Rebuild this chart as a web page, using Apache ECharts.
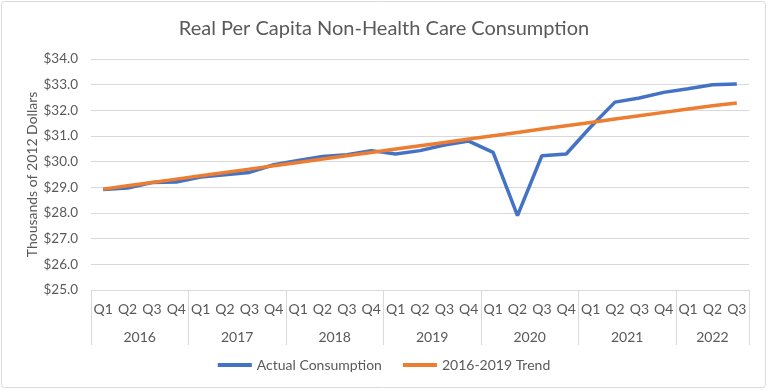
<!DOCTYPE html>
<html>
<head>
<meta charset="utf-8">
<script src="https://cdn.jsdelivr.net/npm/echarts@6/dist/echarts.min.js"></script>
<style>html,body{margin:0;padding:0;background:#fff;}#c{width:768px;height:391px;}</style>
</head>
<body>
<div id="c"></div>
<script>
var quarters = ['Q1','Q2','Q3','Q4','Q1','Q2','Q3','Q4','Q1','Q2','Q3','Q4','Q1','Q2','Q3','Q4','Q1','Q2','Q3','Q4','Q1','Q2','Q3','Q4','Q1','Q2','Q3'];
var years = ['2016','2017','2018','2019','2020','2021','2022'];
var yearCenters = [2, 6, 10, 14, 18, 22, 25.5];
var yearBounds = [0, 4, 8, 12, 16, 20, 24, 27];
var actual = [28.92,28.97,29.19,29.21,29.40,29.49,29.58,29.88,30.05,30.20,30.27,30.43,30.30,30.43,30.65,30.80,30.36,27.90,30.23,30.30,31.35,32.32,32.48,32.70,32.84,33.00,33.03];
var trend = [28.93,29.06,29.19,29.32,29.45,29.58,29.71,29.84,29.97,30.10,30.23,30.36,30.49,30.62,30.75,30.88,31.01,31.14,31.27,31.40,31.53,31.66,31.79,31.92,32.05,32.18,32.29];
var seriesNames = ['Actual Consumption','2016-2019 Trend'];
var FONT = 'Lato';
var TXT = '#595959';
var chart = echarts.init(document.getElementById('c'));
chart.setOption({
  animation: false,
  backgroundColor: '#fff',
  graphic: [{type:'rect', shape:{x:1.5,y:1.5,width:764,height:386,r:3}, style:{fill:'none', stroke:'#d9d9d9', lineWidth:1}, z:-1}],
  title: {text:'Real Per Capita Non-Health Care Consumption', left:'center', top:14, textStyle:{fontFamily:FONT, fontSize:20, fontWeight:'normal', color:TXT}},
  legend: {data: seriesNames, bottom:14, left:'center', itemWidth:34, itemHeight:4, itemGap:21, icon:'rect', textStyle:{fontFamily:FONT, fontSize:14, color:TXT}},
  grid: {left:91, right:19, top:59, bottom:101},
  xAxis: [{
    type:'category', data: quarters, boundaryGap:true,
    axisLine:{show:true, lineStyle:{color:'#d9d9d9'}}, axisTick:{show:false},
    axisLabel:{interval:0, margin:12, fontFamily:FONT, fontSize:14, color:TXT}
  },{
    type:'value', min:0, max:27, position:'bottom', splitLine:{show:false},
    axisLine:{show:false},
    axisTick:{show:true, customValues: yearBounds, length:55, lineStyle:{color:'#d9d9d9'}},
    axisLabel:{customValues: yearCenters, margin:40, fontFamily:FONT, fontSize:14, color:TXT,
      formatter:function(v){var i=yearCenters.indexOf(v); return i>=0?years[i]:'';}}
  }],
  yAxis: {
    type:'value', min:25, max:34, interval:1,
    name:'Thousands of 2012 Dollars', nameLocation:'middle', nameGap:52, nameRotate:90, nameMoveOverlap:false,
    nameTextStyle:{fontFamily:FONT, fontSize:14, color:TXT},
    axisLine:{show:false}, axisTick:{show:false},
    splitLine:{lineStyle:{color:'#d9d9d9'}},
    axisLabel:{margin:13, fontFamily:FONT, fontSize:13.5, color:TXT, formatter:function(v){return '$'+v.toFixed(1);}}
  },
  series: [
    {name:seriesNames[0], type:'line', data:actual, showSymbol:false, symbol:'none', lineStyle:{color:'#4472c4', width:3.5}, itemStyle:{color:'#4472c4'}},
    {name:seriesNames[1], type:'line', data:trend, showSymbol:false, symbol:'none', lineStyle:{color:'#ed7d31', width:3.5}, itemStyle:{color:'#ed7d31'}}
  ]
});
</script>
</body>
</html>
